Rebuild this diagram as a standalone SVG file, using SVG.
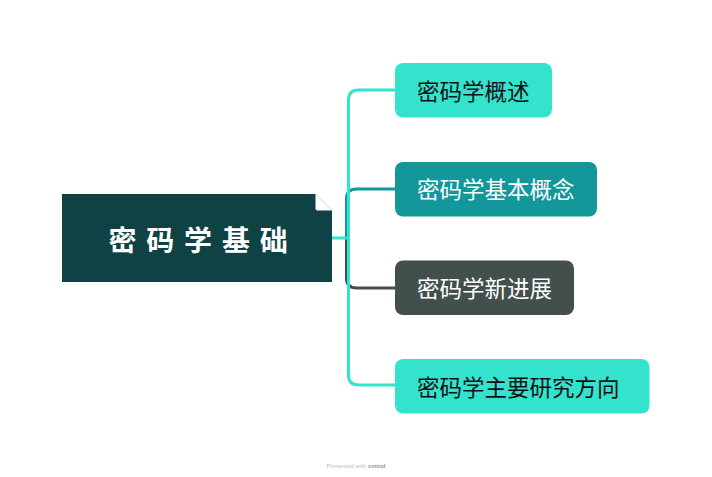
<svg xmlns="http://www.w3.org/2000/svg" width="712" height="477" viewBox="0 0 712 477">
<style>
.lbl{font-family:"Noto Sans CJK SC","Noto Sans",sans-serif;font-size:22.5px;}
.c{fill:none;stroke-width:3;stroke-linecap:butt;stroke-linejoin:round;}
</style>
<rect width="712" height="477" fill="#fff"/>
<g id="connectors">
<path class="c" stroke="#13979A" d="M346.5,238 V199 Q346.5,189 356.5,189 H395"/>
<path class="c" stroke="#434F4C" d="M346.5,238 V278 Q346.5,288 356.5,288 H395"/>
<path class="c" stroke="#34E3CE" d="M332,238 H348.5 V100 Q348.5,90 358.5,90 H395"/>
<path class="c" stroke="#34E3CE" d="M348.5,238 V375 Q348.5,385 358.5,385 H395"/>
</g>
<g id="root">
<path d="M62,194 H315.5 L332,210.5 V282 H62 Z" fill="#0E4244"/>
<path d="M315.5,194 L332,210.5 H317.5 Q315.5,210.5 315.5,208.5 Z" fill="#fff"/>
<text x="203" y="250.6" text-anchor="middle" font-family="'Noto Sans CJK SC',sans-serif" font-weight="bold" font-size="28" letter-spacing="9.8" fill="#fff">密码学基础</text>
</g>
<g id="n1">
<rect x="395" y="63" width="157" height="54.5" rx="8" fill="#34E3CE"/>
<text class="lbl" x="417" y="99.5" fill="#111">密码学概述</text>
</g>
<g id="n2">
<rect x="395" y="162" width="202" height="54.5" rx="8" fill="#13979A"/>
<text class="lbl" x="417" y="198.2" fill="#fff">密码学基本概念</text>
</g>
<g id="n3">
<rect x="395" y="260.5" width="179" height="54.5" rx="8" fill="#434F4C"/>
<text class="lbl" x="417" y="297" fill="#fff">密码学新进展</text>
</g>
<g id="n4">
<rect x="395" y="359" width="254.5" height="54.5" rx="8" fill="#34E3CE"/>
<text class="lbl" x="417" y="395.5" fill="#111">密码学主要研究方向</text>
</g>
<text x="356" y="468" text-anchor="middle" font-family="'Liberation Sans',sans-serif" font-size="6" fill="#bdbdbd">Presented with <tspan font-weight="bold" fill="#999">xmind</tspan></text>
</svg>
